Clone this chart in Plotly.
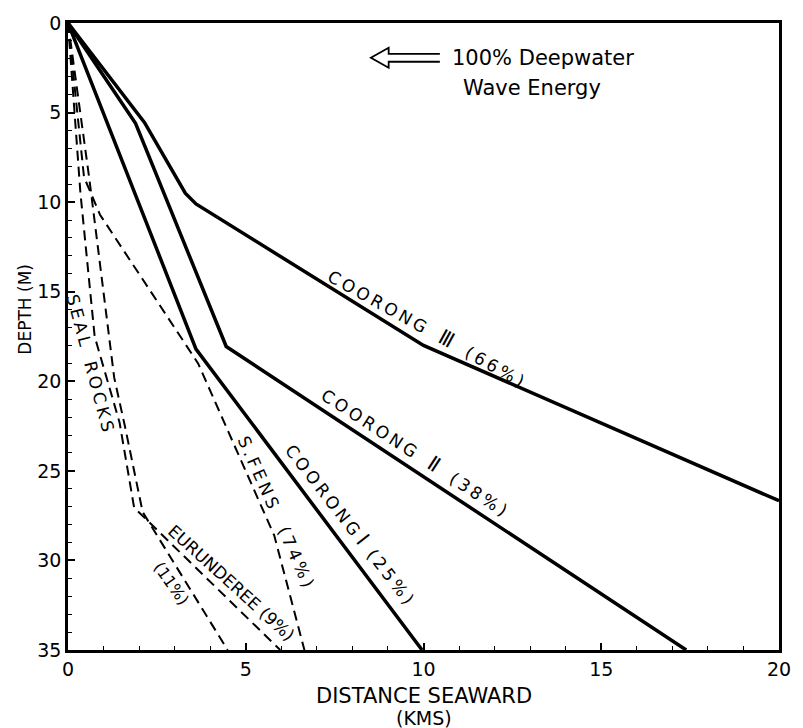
import plotly.graph_objects as go

# Profiles: distance seaward (km) vs depth (m)
coorong3_x = [0.0, 2.15, 3.3, 3.6, 10.0, 20.0]
coorong3_y = [0.0, 5.55, 9.5, 10.1, 18.0, 26.67]

coorong2_x = [0.0, 1.9, 4.45, 17.39]
coorong2_y = [0.0, 5.6, 18.06, 35.0]

coorong1_x = [0.0, 3.6, 9.96]
coorong1_y = [0.0, 18.2, 35.0]

sfens_x = [0.0, 0.45, 0.9, 3.66, 5.8, 6.65]
sfens_y = [0.0, 8.6, 10.7, 19.0, 28.6, 35.0]

eurunderee_x = [0.0, 0.35, 0.75, 1.45, 1.86, 5.97]
eurunderee_y = [0.0, 9.5, 17.5, 22.3, 27.05, 35.0]

sealrocks_x = [0.0, 0.6, 1.3, 1.6, 2.1, 4.49]
sealrocks_y = [0.0, 8.7, 19.8, 22.5, 27.3, 35.0]

x_ticks = [0, 5, 10, 15, 20]
y_ticks = [0, 5, 10, 15, 20, 25, 30, 35]

FONT = "DejaVu Sans"
INK = "black"

fig = go.Figure()

solid = dict(color=INK, width=3.5)
dashed = dict(color=INK, width=2, dash="10px,6px")

for xs, ys, name, style in [
    (coorong3_x, coorong3_y, "Coorong III", solid),
    (coorong2_x, coorong2_y, "Coorong II", solid),
    (coorong1_x, coorong1_y, "Coorong I", solid),
    (sfens_x, sfens_y, "S. Fens", dashed),
    (eurunderee_x, eurunderee_y, "Eurunderee", dashed),
    (sealrocks_x, sealrocks_y, "Seal Rocks", dashed),
]:
    fig.add_trace(go.Scatter(x=xs, y=ys, mode="lines", name=name,
                             line=style, showlegend=False, hoverinfo="skip"))

NB = "\u00a0"
THIN = "\u2009"


def spaced(word):
    """Hand-lettered look: a thin space between every letter."""
    return THIN.join(word)


def numeral(s):
    return f"<span style='font-size:21px'>{s}</span>"


gap3 = NB * 3
labels = [
    (f"{spaced('COORONG')}{gap3}{numeral('Ⅲ')}{gap3}{spaced('(66%)')}", 10.1, 17.0, 29, 17),
    (f"{spaced('COORONG')}{gap3}{numeral('Ⅱ')}{gap3}{spaced('(38%)')}", 9.76, 23.95, 33, 17),
    (f"{spaced('COORONG')}{NB}{numeral('Ⅰ')}{NB * 2}{spaced('(25%)')}", 7.95, 27.95, 52, 17),
    (f"{spaced('S.FENS')}{NB * 4}{spaced('(74%)')}", 5.85, 27.3, 66, 17),
    (f"{spaced('SEAL')}{gap3}{spaced('ROCKS')}", 0.62, 19.0, 75, 17),
    (f"EURUNDEREE{NB}(9%)", 4.6, 31.25, 42, 17),
    ("(11%)", 2.9, 31.3, 55, 16),
]
for text, x, y, ang, size in labels:
    fig.add_annotation(x=x, y=y, text=text, textangle=ang, showarrow=False,
                       font=dict(family=FONT, size=size, color=INK),
                       xanchor="center", yanchor="middle")

# hollow arrow pointing shoreward
tip_x, back_x, end_x, ay = 8.52, 9.02, 10.46, 1.94
hh, sh = 0.556, 0.222
arrow_path = (f"M {end_x},{ay - sh} L {back_x},{ay - sh} L {back_x},{ay - hh} "
              f"L {tip_x},{ay} L {back_x},{ay + hh} L {back_x},{ay + sh} L {end_x},{ay + sh}")
fig.add_shape(type="path", path=arrow_path, xref="x", yref="y",
              line=dict(color=INK, width=1.8))

fig.add_annotation(x=10.74, y=1.94, text="100% Deepwater", showarrow=False,
                   xanchor="left", yanchor="middle",
                   font=dict(family=FONT, size=21, color=INK))
fig.add_annotation(x=13.04, y=3.61, text="Wave Energy", showarrow=False,
                   xanchor="center", yanchor="middle",
                   font=dict(family=FONT, size=21, color=INK))

# axis titles
fig.add_annotation(x=10, y=0, xref="x", yref="paper", yshift=-46,
                   text="DISTANCE SEAWARD", showarrow=False,
                   font=dict(family=FONT, size=21, color=INK),
                   xanchor="center", yanchor="middle")
fig.add_annotation(x=10, y=0, xref="x", yref="paper", yshift=-68,
                   text="(KMS)", showarrow=False,
                   font=dict(family=FONT, size=19, color=INK),
                   xanchor="center", yanchor="middle")
fig.add_annotation(x=0, y=16.0, xref="paper", yref="y", xshift=-43,
                   text="DEPTH (M)", textangle=-90, showarrow=False,
                   font=dict(family=FONT, size=17, color=INK),
                   xanchor="center", yanchor="middle")

axis_common = dict(showline=True, linewidth=2.5, linecolor=INK, mirror=True,
                   showgrid=False, zeroline=False, ticks="inside", ticklen=7,
                   tickwidth=1.5, tickcolor=INK,
                   tickfont=dict(family=FONT, size=19, color=INK),
                   minor=dict(ticks="inside", ticklen=4, tickwidth=1.2,
                              tickcolor=INK, dtick=1, showgrid=False))

fig.update_xaxes(range=[0, 20], tickvals=x_ticks, ticktext=[str(v) for v in x_ticks],
                 **axis_common)
fig.update_yaxes(range=[35, 0], tickvals=y_ticks, ticktext=[str(v) for v in y_ticks],
                 **axis_common)

fig.update_layout(width=803, height=728, margin=dict(l=68, r=14, t=20, b=78),
                  plot_bgcolor="white", paper_bgcolor="white",
                  font=dict(family=FONT, color=INK))

fig.write_html("out.html")
